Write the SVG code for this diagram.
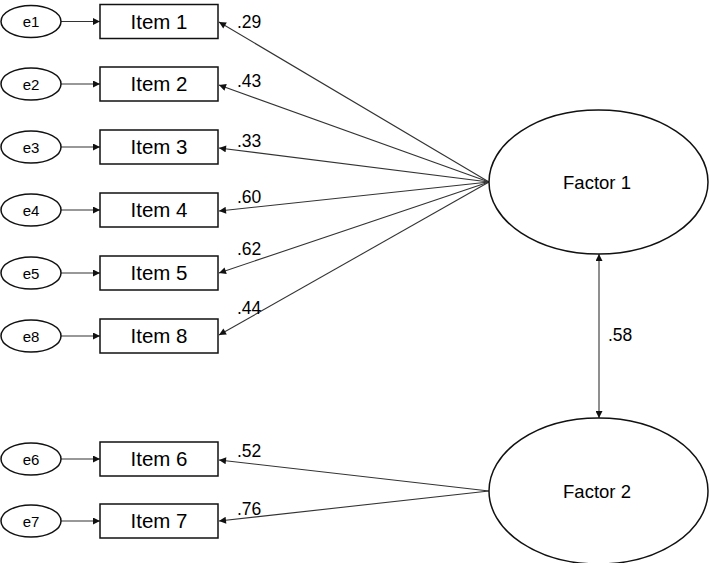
<svg xmlns="http://www.w3.org/2000/svg" width="709" height="563" viewBox="0 0 709 563">
<style>
.box{fill:#fff;stroke:#111;stroke-width:1.5}
.ell{fill:#fff;stroke:#111;stroke-width:1.5}
.t{font-family:"Liberation Sans",Arial,sans-serif;fill:#000;text-anchor:middle}
.it{font-size:20.5px}
.et{font-size:15px}
.ft{font-size:18.5px}
.lb{font-family:"Liberation Sans",Arial,sans-serif;fill:#000;font-size:17.5px}
.c{stroke:#333;stroke-width:1.1;fill:none;marker-end:url(#ah)}
</style>
<defs>
<marker id="ah" viewBox="0 0 10 10" refX="10" refY="5" markerWidth="8" markerHeight="7" markerUnits="userSpaceOnUse" orient="auto">
<path d="M0,0 L10,5 L0,10 z" fill="#111"/>
</marker>
<marker id="as" viewBox="0 0 10 10" refX="0" refY="5" markerWidth="8" markerHeight="7" markerUnits="userSpaceOnUse" orient="auto">
<path d="M10,0 L0,5 L10,10 z" fill="#111"/>
</marker>
</defs>
<rect width="709" height="563" fill="#fff"/>
<g id="connectors">
<line class="c" x1="61" y1="21.5" x2="100" y2="21.5"/>
<line class="c" x1="61" y1="84" x2="100" y2="84"/>
<line class="c" x1="61" y1="147" x2="100" y2="147"/>
<line class="c" x1="61" y1="210" x2="100" y2="210"/>
<line class="c" x1="61" y1="273" x2="100" y2="273"/>
<line class="c" x1="61" y1="336" x2="100" y2="336"/>
<line class="c" x1="61" y1="459" x2="100" y2="459"/>
<line class="c" x1="61" y1="521" x2="100" y2="521"/>
<line class="c" x1="489" y1="182" x2="219" y2="22"/>
<line class="c" x1="489" y1="182" x2="219" y2="85"/>
<line class="c" x1="489" y1="182" x2="219" y2="148"/>
<line class="c" x1="489" y1="182" x2="219" y2="211"/>
<line class="c" x1="489" y1="182" x2="219" y2="273"/>
<line class="c" x1="489" y1="182" x2="219" y2="335"/>
<line class="c" x1="489" y1="491" x2="219" y2="460"/>
<line class="c" x1="489" y1="491" x2="219" y2="521"/>
<line class="c" x1="599" y1="254" x2="599" y2="418" marker-start="url(#as)"/>
<text class="lb" x="237" y="28">.29</text>
<text class="lb" x="237" y="87">.43</text>
<text class="lb" x="237" y="147">.33</text>
<text class="lb" x="237" y="203">.60</text>
<text class="lb" x="237" y="255">.62</text>
<text class="lb" x="237" y="314">.44</text>
<text class="lb" x="237" y="457">.52</text>
<text class="lb" x="237" y="515">.76</text>
<text class="lb" x="608" y="341">.58</text>
</g>
<g id="e1"><ellipse class="ell" cx="31" cy="21.5" rx="30" ry="16"/><text class="t et" x="31" y="27">e1</text></g>
<g id="e2"><ellipse class="ell" cx="31" cy="84" rx="30" ry="16"/><text class="t et" x="31" y="89.5">e2</text></g>
<g id="e3"><ellipse class="ell" cx="31" cy="147" rx="30" ry="16"/><text class="t et" x="31" y="152.5">e3</text></g>
<g id="e4"><ellipse class="ell" cx="31" cy="210" rx="30" ry="16"/><text class="t et" x="31" y="215.5">e4</text></g>
<g id="e5"><ellipse class="ell" cx="31" cy="273" rx="30" ry="16"/><text class="t et" x="31" y="278.5">e5</text></g>
<g id="e8"><ellipse class="ell" cx="31" cy="336" rx="30" ry="16"/><text class="t et" x="31" y="341.5">e8</text></g>
<g id="e6"><ellipse class="ell" cx="31" cy="459" rx="30" ry="16"/><text class="t et" x="31" y="464.5">e6</text></g>
<g id="e7"><ellipse class="ell" cx="31" cy="521" rx="30" ry="16"/><text class="t et" x="31" y="526.5">e7</text></g>
<g id="item1"><rect class="box" x="100" y="4.5" width="118" height="34"/><text class="t it" x="159" y="28.5">Item 1</text></g>
<g id="item2"><rect class="box" x="100" y="67" width="118" height="34"/><text class="t it" x="159" y="91">Item 2</text></g>
<g id="item3"><rect class="box" x="100" y="130" width="118" height="34"/><text class="t it" x="159" y="154">Item 3</text></g>
<g id="item4"><rect class="box" x="100" y="193" width="118" height="34"/><text class="t it" x="159" y="217">Item 4</text></g>
<g id="item5"><rect class="box" x="100" y="256" width="118" height="34"/><text class="t it" x="159" y="280">Item 5</text></g>
<g id="item8"><rect class="box" x="100" y="319" width="118" height="34"/><text class="t it" x="159" y="343">Item 8</text></g>
<g id="item6"><rect class="box" x="100" y="442" width="118" height="34"/><text class="t it" x="159" y="466">Item 6</text></g>
<g id="item7"><rect class="box" x="100" y="504" width="118" height="34"/><text class="t it" x="159" y="528">Item 7</text></g>
<g id="factor1"><ellipse class="ell" cx="598.5" cy="182" rx="109.5" ry="72"/><text class="t ft" x="597" y="189">Factor 1</text></g>
<g id="factor2"><ellipse class="ell" cx="598.5" cy="491" rx="109.5" ry="73"/><text class="t ft" x="597" y="498">Factor 2</text></g>
</svg>
